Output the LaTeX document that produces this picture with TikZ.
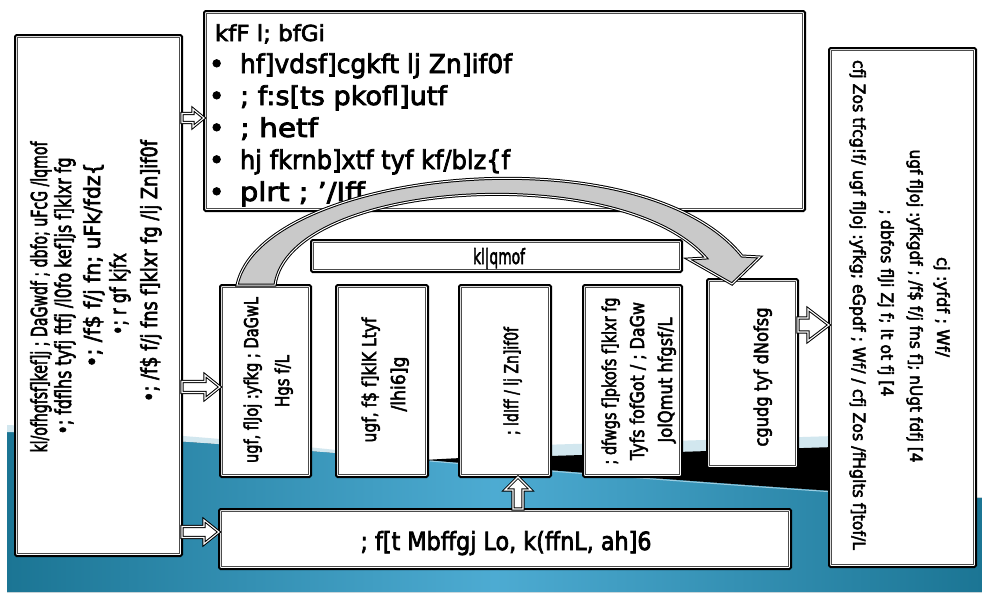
\documentclass[tikz,border=0pt]{standalone}
\usepackage{fontspec}
\setmainfont{DejaVu Sans}[FakeBold=3]
\usepackage{graphicx}
\usetikzlibrary{calc,fit}

\definecolor{seadark}{HTML}{1B7594}
\definecolor{sealight}{HTML}{4DABD2}
\definecolor{foam}{HTML}{D2E7EF}
\definecolor{arcgray}{HTML}{C9C9C9}

% stretch a piece of text to a given length, height unchanged
\newcommand\fitto[2]{\resizebox{#1}{\height}{#2}}

% framed panel: name, x1, y1, x2, y2
\newcommand\mkpanel[5]{%
  \node[panel, fit={(#2,#3) (#4,#5)}] (#1) {};
  \draw[panelin] ([xshift=2.8pt,yshift=-2.8pt]#1.north west) rectangle ([xshift=-2.8pt,yshift=2.8pt]#1.south east);}

% block arrow pointing right: from, to, shaft half, head half, head length
\newcommand\rightblock[5]{%
  \draw[barrow] let \p1=(#1), \p2=(#2) in
    (\x1,\y1+#3) -- (\x2-#5,\y1+#3) -- (\x2-#5,\y1+#4) -- (\x2,\y1)
    -- (\x2-#5,\y1-#4) -- (\x2-#5,\y1-#3) -- (\x1,\y1-#3) -- cycle;}

% block arrow pointing up: from, to, shaft half, head half, head length
\newcommand\upblock[5]{%
  \draw[barrow] let \p1=(#1), \p2=(#2) in
    (\x1-#3,\y1) -- (\x1-#3,\y2-#5) -- (\x1-#4,\y2-#5) -- (\x1,\y2)
    -- (\x1+#4,\y2-#5) -- (\x1+#3,\y2-#5) -- (\x1+#3,\y1) -- cycle;}

\begin{document}
\begin{tikzpicture}[x=1pt,y=-1pt,
  panel/.style={draw=black, line width=2pt, fill=white, rounded corners=1.5pt, inner sep=0pt, outer sep=0pt},
  panelin/.style={draw=black!70, line width=0.8pt},
  lbl/.style={inner sep=0pt, outer sep=0pt},
  headtext/.style={lbl, font=\fontsize{22}{26}\selectfont, anchor=base west},
  toptext/.style={lbl, font=\fontsize{26}{30}\selectfont, anchor=base west},
  sidetext/.style={lbl, font=\fontsize{22}{26}\selectfont, rotate=90, anchor=base},
  righttext/.style={lbl, font=\fontsize{17}{21}\selectfont, rotate=-90, anchor=base},
  boxtext/.style={lbl, font=\fontsize{19}{23}\selectfont, rotate=90, anchor=base},
  barrow/.style={draw=black, line width=1pt, double=white, double distance=1.1pt, fill=white, line join=miter},
  bigarc/.style={draw=black, line width=1pt, double=white, double distance=1pt, fill=arcgray, line join=miter}]

\useasboundingbox (0,0) rectangle (982,592);
\fill[white] (0,0) rectangle (982,592);

% ---- sea background ----
\fill[left color=seadark, right color=seadark, middle color=sealight]
  (7,592) -- (7,432) .. controls (150,437) and (320,452) .. (425,460)
  .. controls (520,468) and (700,482) .. (835,491) -- (982,498) -- (982,592) -- cycle;
\fill[foam] (7,425) .. controls (150,431) and (320,447) .. (425,460)
  .. controls (320,452) and (150,437) .. (7,432) -- cycle;
\fill[foam] (540,445) -- (835,436) -- (835,448) -- (540,457) -- cycle;
\fill[black] (425,460) .. controls (470,457) and (520,456) .. (550,456) -- (835,447)
  -- (835,491) .. controls (700,482) and (520,468) .. (425,460) -- cycle;
\draw[foam!60!sealight, line width=1pt] (430,461) .. controls (520,469) and (700,483) .. (835,492);

% ---- panels ----
\mkpanel{top}{204}{11}{805}{211}
\mkpanel{lb}{15}{35}{182}{556}
\mkpanel{rb}{829}{48}{976}{567}
\mkpanel{bar}{311}{240}{682}{272}
\mkpanel{b1}{220}{285}{311}{477}
\mkpanel{b2}{336}{285}{428}{477}
\mkpanel{b3}{459}{285}{551}{477}
\mkpanel{b4}{583}{285}{682}{477}
\mkpanel{b5}{707}{279}{798}{468}
\mkpanel{bot}{219}{509}{791}{569}

% ---- top panel text ----
\node[headtext] (t0) at (215,41) {\fitto{110pt}{kfF l; bfGi}};
\node[toptext] (t1) at (209,73) {\makebox[31pt][l]{•}\fitto{272pt}{hf]vdsf]cgkft lj Zn]if0f}};
\node[toptext] (t2) at (209,105) {\makebox[31pt][l]{•}\fitto{207pt}{; f:s[ts pkofl]utf}};
\node[toptext] (t3) at (209,137) {\makebox[31pt][l]{•}\fitto{78pt}{; hetf}};
\node[toptext] (t4) at (209,169) {\makebox[31pt][l]{•}\fitto{270pt}{hj fkrnb]xtf tyf kf/blz\{f}};
\node[toptext] (t5) at (209,201) {\makebox[31pt][l]{•}\fitto{125pt}{plrt ; '/Iff}};

% ---- left panel text ----
\node[sidetext] (l1) at (47,297) {\fitto{311pt}{kl/ofhgfsf]kef]j ; DaGwdf ; dbfo; uFcG /lqmof}};
\node[sidetext] (l2) at (71,296) {\fitto{277pt}{•; fdflhs tyfj ftfj /l0fo kef]js f]klxr fg}};
\node[sidetext] (l3) at (100,265) {\fitto{205pt}{•; /f\$ f/j fn; uFk/fdz\{}};
\node[sidetext] (l4) at (126,294) {\fitto{82pt}{•; r gf kjfx}};
\node[sidetext] (l5) at (157,271) {\fitto{262pt}{•; /f\$ f/j fns f]klxr fg /lj Zn]if0f}};

% ---- right panel text ----
\node[righttext] (r1) at (937,307) {\fitto{100pt}{cj :yfdf ; Wf/}};
\node[righttext] (r2) at (910,306) {\fitto{313pt}{ugf flJoj :yfkgdf ; /f\$ f/j fns f]; nUgt fdfj [4}};
\node[righttext] (r3) at (881,303) {\fitto{187pt}{; dbfos flJi Zj f; It ot fj [4}};
\node[righttext] (r4) at (853,305) {\fitto{490pt}{cfj Zos tfcg!f/ ugf flJoj :yfkg; eGpdf ; Wf/ / cfj Zos /fHglts f]tof/L}};

% ---- process boxes text ----
\node[lbl, font=\fontsize{21}{25}\selectfont, anchor=base] (bart) at (499,264) {\fitto{52pt}{kl|qmof}};
\node[boxtext] (b1a) at (258,380) {\fitto{166pt}{ugf, flJoj :yfkg ; DaGwL}};
\node[boxtext] (b1b) at (289,381) {\fitto{52pt}{Hgs f/L}};
\node[boxtext] (b2a) at (376,380) {\fitto{125pt}{ugf, f\$ f]klK Ltyf}};
\node[boxtext] (b2b) at (405,384) {\fitto{55pt}{/lhi6]g}};
\node[boxtext] (b3a) at (518,381) {\fitto{108pt}{; ldIff / lj Zn]if0f}};
\node[boxtext] (b4a) at (616,381) {\fitto{167pt}{; dfwgs f]pkofs f]klxr fg}};
\node[boxtext] (b4b) at (644,381) {\fitto{158pt}{Tyfs fofGot / ; DaGw}};
\node[boxtext] (b4c) at (672,380) {\fitto{125pt}{JolQmut hfgsf/L}};
\node[boxtext] (b5a) at (768,377) {\fitto{139pt}{cgudg tyf dNofsg}};
\node[lbl, font=\fontsize{25}{29}\selectfont, anchor=base] (bott) at (506,550) {\fitto{291pt}{; f[t Mbffgj Lo, k(ffnL, ah]6}};

% ---- block arrows ----
\coordinate (ya) at (0,118);
\coordinate (yb) at (0,387);
\coordinate (yc) at (0,532);
\coordinate (yd) at (0,325);
\coordinate (xu) at (518,0);
\rightblock{lb.east |- ya}{top.west |- ya}{4.5pt}{9pt}{11pt}
\rightblock{lb.east |- yb}{b1.west |- yb}{5.5pt}{12pt}{15pt}
\rightblock{lb.east |- yc}{bot.west |- yc}{5.5pt}{12pt}{15pt}
\rightblock{b5.east |- yd}{rb.west |- yd}{7pt}{16pt}{21pt}
\upblock{bot.north -| xu}{b3.south -| xu}{5pt}{13pt}{13pt}

% ---- curved arrow from the first to the last process box ----
\draw[bigarc] ([xshift=17pt]b1.north west) .. controls (262,170) and (640,130) .. (742,256)
  -- (760,257) -- ([xshift=25pt,yshift=-5pt]b5.north west) -- (688,259) -- (706,258)
  .. controls (620,160) and (290,180) .. ([xshift=55pt]b1.north west) -- cycle;

\end{tikzpicture}
\end{document}
